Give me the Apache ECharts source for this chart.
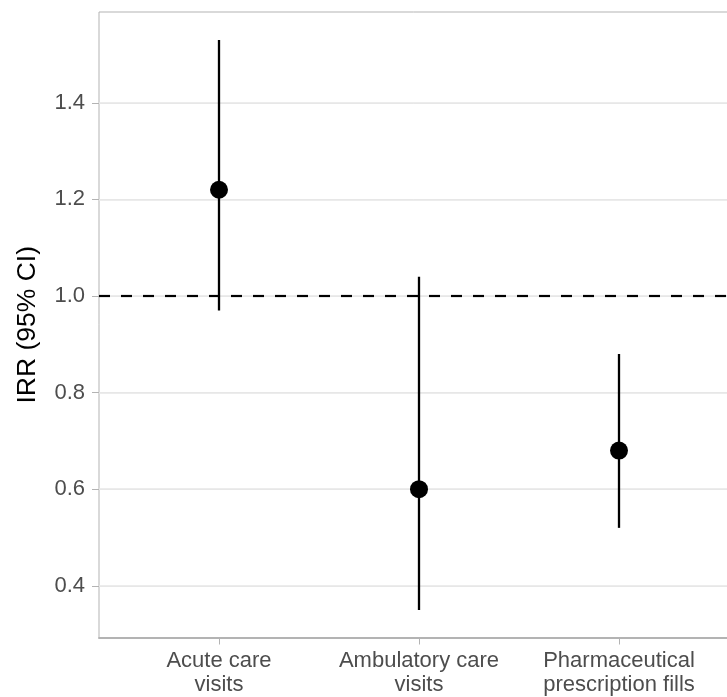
<!DOCTYPE html>
<html>
<head>
<meta charset="utf-8">
<script src="https://cdn.jsdelivr.net/npm/echarts@6/dist/echarts.min.js"></script>
<style>
html,body{margin:0;padding:0;background:#fff;}
#chart{width:727px;height:697px;}
</style>
</head>
<body>
<div id="chart"></div>
<script>
const categories = ["Acute care\nvisits", "Ambulatory care\nvisits", "Pharmaceutical\nprescription fills"];
const irr = [1.22, 0.60, 0.68];
const ciLow = [0.97, 0.35, 0.52];
const ciHigh = [1.53, 1.04, 0.88];
const yTicks = [0.4, 0.6, 0.8, 1.0, 1.2, 1.4];
const refLine = 1.0;

const FONT = '"Liberation Sans", Arial, Helvetica, sans-serif';
const xPos = categories.map((c, i) => i + 1);

const chart = echarts.init(document.getElementById('chart'), null, {renderer: 'canvas'});
chart.setOption({
  animation: false,
  backgroundColor: '#ffffff',
  grid: {
    left: 99, top: 12, width: 640, height: 625.5,
    outerBoundsMode: 'none', containLabel: false,
    show: true, borderColor: '#b3b3b3', borderWidth: 1, backgroundColor: 'transparent'
  },
  xAxis: {
    type: 'value', min: 0.4, max: 3.6,
    splitLine: {show: false},
    axisLine: {show: true, onZero: false, lineStyle: {color: '#b3b3b3', width: 2}},
    axisTick: {show: true, customValues: xPos, length: 7, lineStyle: {color: '#b3b3b3', width: 1}},
    axisLabel: {
      customValues: xPos, margin: 11,
      fontFamily: FONT, fontSize: 22, lineHeight: 24, color: '#4d4d4d',
      formatter: v => categories[Math.round(v) - 1] || ''
    }
  },
  yAxis: {
    type: 'value', min: 0.293, max: 1.588, interval: 0.1,
    name: 'IRR (95% CI)', nameLocation: 'middle', nameGap: 58,
    nameTextStyle: {fontFamily: FONT, fontSize: 26.5, color: '#000000'},
    axisLine: {show: false},
    axisTick: {show: true, customValues: yTicks, length: 7, lineStyle: {color: '#b3b3b3', width: 1}},
    axisLabel: {
      customValues: yTicks, margin: 14,
      fontFamily: FONT, fontSize: 22, color: '#4d4d4d',
      formatter: v => v.toFixed(1)
    },
    splitLine: {show: true, lineStyle: {color: '#ececec', width: 1}}
  },
  series: [
    {
      type: 'line', data: [], silent: true, z: 1,
      markLine: {
        silent: true, symbol: 'none', label: {show: false}, z: 1,
        lineStyle: {color: '#e6e6e6', width: 1.5, type: 'solid'},
        data: yTicks.map(v => ({yAxis: v}))
      }
    },
    {
      type: 'line', data: [], silent: true, z: 2,
      markLine: {
        silent: true, symbol: 'none', label: {show: false}, z: 2,
        lineStyle: {color: '#000000', width: 2.2, type: [11, 11]},
        data: [{yAxis: refLine}]
      }
    },
    {
      type: 'custom', z: 10,
      data: xPos.map((x, i) => [x, ciLow[i], ciHigh[i]]),
      renderItem: function (params, api) {
        const p1 = api.coord([api.value(0), api.value(1)]);
        const p2 = api.coord([api.value(0), api.value(2)]);
        return {
          type: 'line',
          shape: {x1: p1[0], y1: p1[1], x2: p2[0], y2: p2[1]},
          style: {stroke: '#000000', lineWidth: 2.3}
        };
      }
    },
    {
      type: 'scatter', z: 11,
      data: xPos.map((x, i) => [x, irr[i]]),
      symbol: 'circle', symbolSize: 18,
      itemStyle: {color: '#000000', opacity: 1}
    }
  ]
});
</script>
</body>
</html>
